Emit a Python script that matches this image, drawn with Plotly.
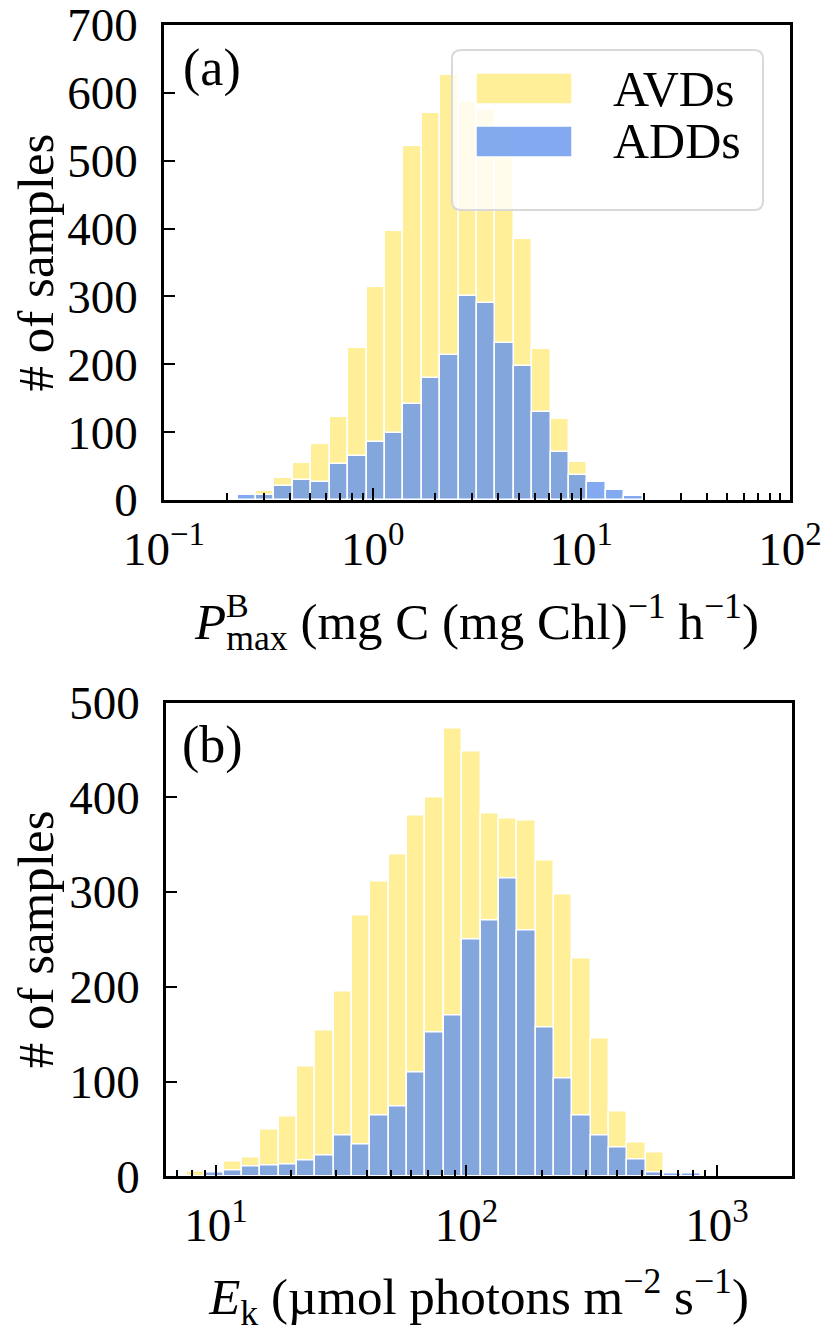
import numpy as np
import plotly.graph_objects as go

# ---------------- data ----------------
# Panel (a): P^B_max histogram, 34 log-spaced bins between 10^-1 and 10^2
pmax_log_lo, pmax_log_hi, pmax_nbins = -1.0, 2.0, 34
pmax_avds = [0, 0, 0, 0, 0, 13, 32, 55, 83, 122, 224, 314, 396, 521, 571, 626, 587,
             575, 549, 385, 222, 120, 56, 0, 0, 0, 0, 0, 0, 0, 0, 0, 0, 0]
pmax_adds = [0, 0, 0, 0, 7, 7, 21, 29, 27, 53, 65, 85, 99, 141, 180, 214, 301,
             291, 231, 197, 130, 71, 37, 27, 15, 6, 0, 0, 0, 0, 0, 0, 0, 0]

# Panel (b): E_k histogram, 28 log-spaced bins
ek_log_lo, ek_log_hi, ek_nbins = 0.883, 2.936, 28
ek_avds = [5, 3, 16, 20, 49, 63, 116, 154, 195, 275, 311, 340, 381, 400, 473, 448,
           383, 378, 375, 333, 297, 230, 145, 68, 36, 25, 0, 0]
ek_adds = [0, 4, 6, 10, 11, 12, 17, 22, 43, 34, 64, 74, 110, 152, 170, 250,
           270, 314, 259, 157, 103, 64, 43, 30, 18, 4, 3, 3]

series_names = ["AVDs", "ADDs"]
pmax_ticks = [0.1, 1, 10, 100]
pmax_ticktext = ["10<sup>−1</sup>", "10<sup>0</sup>", "10<sup>1</sup>", "10<sup>2</sup>"]
ek_ticks = [10, 100, 1000]
ek_ticktext = ["10<sup>1</sup>", "10<sup>2</sup>", "10<sup>3</sup>"]
count_ticks_a = [0, 100, 200, 300, 400, 500, 600, 700]
count_ticks_b = [0, 100, 200, 300, 400, 500]

# ---------------- style ----------------
PAGE_W, PAGE_H = 829, 1333
OFF = 8                      # default page margin around the plot div
W, H = PAGE_W - OFF, PAGE_H - OFF
FONT = "Liberation Serif"
YELLOW = "rgba(255,215,0,0.4)"
BLUE = "rgba(100,149,237,0.8)"
EDGE = "white"


def px(x):
    return (x - OFF) / W


def py(y):
    return 1 - (y - OFF) / H


def bins(lo, hi, n):
    edges = 10 ** np.linspace(lo, hi, n + 1)
    centers = (edges[:-1] + edges[1:]) / 2
    widths = edges[1:] - edges[:-1]
    return centers, widths


fig = go.Figure()

for (lo, hi, n, avd, add, xa, ya) in [
    (pmax_log_lo, pmax_log_hi, pmax_nbins, pmax_avds, pmax_adds, "x", "y"),
    (ek_log_lo, ek_log_hi, ek_nbins, ek_avds, ek_adds, "x2", "y2"),
]:
    c, w = bins(lo, hi, n)
    fig.add_trace(go.Bar(x=c, y=avd, width=w, name=series_names[0], xaxis=xa, yaxis=ya,
                         marker=dict(color=YELLOW, line=dict(color=EDGE, width=1.5)),
                         showlegend=False))
    fig.add_trace(go.Bar(x=c, y=add, width=w, name=series_names[1], xaxis=xa, yaxis=ya,
                         marker=dict(color=BLUE, line=dict(color=EDGE, width=1.5)),
                         showlegend=False))


def minor_vals(e0, e1):
    return [k * 10.0 ** e for e in range(e0, e1) for k in range(2, 10)]


tickfont = dict(family=FONT, size=47, color="black")
titlefont = dict(family=FONT, size=51, color="black")
common_x = dict(type="log", showgrid=False, zeroline=False, showline=True, linecolor="black",
                linewidth=2.5, mirror=True, ticks="inside", ticklen=12, tickwidth=2,
                tickcolor="black", tickfont=tickfont, automargin=False,
                ticklabelstandoff=6, ticklabeloverflow="allow")
common_y = dict(showgrid=False, zeroline=False, showline=True, linecolor="black",
                linewidth=2.5, mirror=True, ticks="inside", ticklen=11, tickwidth=2,
                tickcolor="black", tickfont=tickfont, automargin=False,
                tickmode="array", ticklabelstandoff=14, ticklabeloverflow="allow")

fig.update_layout(
    width=W, height=H, margin=dict(l=0, r=0, t=0, b=0),
    paper_bgcolor="white", plot_bgcolor="white", barmode="overlay", bargap=0,
    font=dict(family=FONT, color="black"),
    xaxis=dict(common_x, domain=[px(164), px(790)], range=[-1, 2], anchor="y",
               tickmode="array", tickvals=pmax_ticks, ticktext=pmax_ticktext,
               minor=dict(tickmode="array", tickvals=minor_vals(-1, 2), ticks="inside",
                          ticklen=7, tickwidth=1.5, tickcolor="black"),
               title=dict(text="<i>P</i><sub>max</sub> (mg C (mg Chl)<sup>−1</sup> h<sup>−1</sup>)",
                          font=titlefont, standoff=30)),
    yaxis=dict(common_y, domain=[py(500), py(25)], range=[0, 700], anchor="x",
               tickvals=count_ticks_a,
               title=dict(text="# of samples", font=titlefont, standoff=8)),
    xaxis2=dict(common_x, domain=[px(166), px(792)], range=[0.8, 3.3], anchor="y2",
                tickmode="array", tickvals=ek_ticks, ticktext=ek_ticktext,
                minor=dict(tickmode="array", tickvals=minor_vals(0, 4), ticks="inside",
                           ticklen=7, tickwidth=1.5, tickcolor="black"),
                title=dict(text="<i>E</i><sub>k</sub> (µmol photons m<sup>−2</sup> s<sup>−1</sup>)",
                           font=titlefont, standoff=30)),
    yaxis2=dict(common_y, domain=[py(1176.3), py(702.5)], range=[0, 500], anchor="x2",
                tickvals=count_ticks_b,
                title=dict(text="# of samples", font=titlefont, standoff=8)),
)

# superscript B stacked above "max"
fig.add_annotation(text="B", xref="paper", yref="paper", x=px(224), y=py(606),
                   xanchor="left", yanchor="middle", showarrow=False,
                   font=dict(family=FONT, size=34, color="black"))

# panel labels
for lab, (lx, ly) in [("(a)", (212, 68)), ("(b)", (212, 745))]:
    fig.add_annotation(text=lab, xref="paper", yref="paper", x=px(lx), y=py(ly),
                       xanchor="center", yanchor="middle", showarrow=False,
                       font=dict(family=FONT, size=52, color="black"))


# legend (drawn in panel a) with rounded frame
def rounded_rect(x0p, y0p, x1p, y1p, r):
    x0, x1 = px(x0p), px(x1p)
    yt, yb = py(y0p), py(y1p)
    rx, ry = r / W, r / H
    return (f"M {x0 + rx},{yt} L {x1 - rx},{yt} Q {x1},{yt} {x1},{yt - ry} "
            f"L {x1},{yb + ry} Q {x1},{yb} {x1 - rx},{yb} "
            f"L {x0 + rx},{yb} Q {x0},{yb} {x0},{yb + ry} "
            f"L {x0},{yt - ry} Q {x0},{yt} {x0 + rx},{yt} Z")


fig.add_shape(type="path", xref="paper", yref="paper", path=rounded_rect(452, 50, 763, 210, 9),
              fillcolor="rgba(255,255,255,0.8)", line=dict(color="#d9d9d9", width=2),
              layer="above")
for name, col, (y0, y1) in [(series_names[0], YELLOW, (73, 104)), (series_names[1], BLUE, (126, 157))]:
    fig.add_shape(type="rect", xref="paper", yref="paper", x0=px(476), x1=px(572),
                  y0=py(y1), y1=py(y0), fillcolor=col, line=dict(color=EDGE, width=1.5),
                  layer="above")
    fig.add_annotation(text=name, xref="paper", yref="paper", x=px(611), y=py((y0 + y1) / 2),
                       xanchor="left", yanchor="middle", showarrow=False,
                       font=dict(family=FONT, size=50, color="black"))

fig.write_html("out.html")
